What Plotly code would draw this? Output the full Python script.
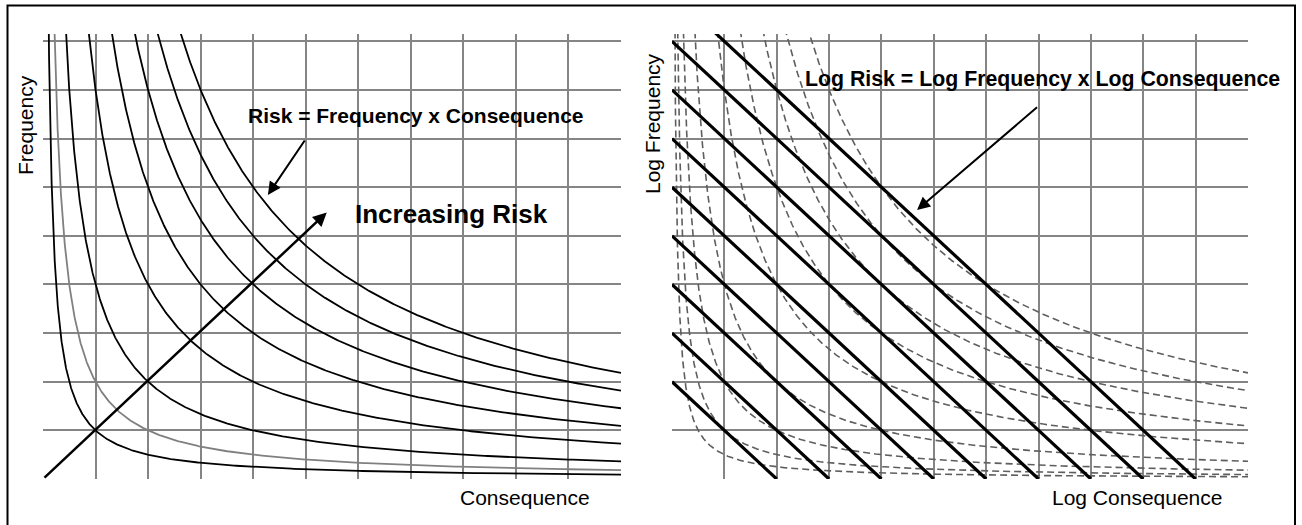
import numpy as np
import plotly.graph_objects as go

# ---------------- data ----------------
# iso-risk levels drawn as hyperbolas (Frequency = Risk / Consequence), left panel
risk_levels = [1, 2, 4, 8, 12, 16, 20, 24]
risk_is_grey = [False, True, False, False, False, False, False, False]
# same hyperbolas repeated as dashed curves in the right panel
dashed_risk_levels = [0.5, 1, 2, 4, 8, 12, 16, 20, 24]
# straight iso-risk lines on the log-log panel (Log F + Log C = const)
log_risk_levels = [2, 3, 4, 5, 6, 7, 8, 9, 10]

X_MAX = 11
Y_MAX = 9.15

W, H = 1302, 525
def px(x):
    return x / W
def py(y):
    return 1 - y / H

FONT = "Arial, Liberation Sans, sans-serif"

fig = go.Figure()

# ---------------- left panel ----------------
for r, grey in zip(risk_levels, risk_is_grey):
    xs = np.geomspace(r / (Y_MAX * 1.5), X_MAX, 500)
    fig.add_trace(go.Scatter(
        x=xs, y=r / xs, mode="lines", xaxis="x", yaxis="y",
        line=dict(color="#808080" if grey else "black", width=1.8),
        hoverinfo="skip", showlegend=False))

# ---------------- right panel ----------------
for r in dashed_risk_levels:
    xs = np.geomspace(r / (Y_MAX * 1.5), X_MAX, 500)
    fig.add_trace(go.Scatter(
        x=xs, y=r / xs, mode="lines", xaxis="x2", yaxis="y2",
        line=dict(color="#5e5e5e", width=1.6, dash="7px,4px"),
        hoverinfo="skip", showlegend=False))

for c in log_risk_levels:
    xs = np.array([0.0, float(c)])
    fig.add_trace(go.Scatter(
        x=xs, y=c - xs, mode="lines", xaxis="x2", yaxis="y2",
        line=dict(color="black", width=3.2),
        hoverinfo="skip", showlegend=False))

axis_common = dict(
    showticklabels=False, ticks="", showline=False, zeroline=False,
    showgrid=True, gridcolor="#858585", gridwidth=2, dtick=1, tick0=0,
    fixedrange=True,
)

y_dom = [py(479), py(34)]
fig.update_layout(
    width=W, height=H, autosize=False,
    margin=dict(l=0, r=0, t=0, b=0),
    paper_bgcolor="white", plot_bgcolor="white",
    showlegend=False,
    xaxis=dict(domain=[px(43), px(621)], range=[0, X_MAX], anchor="y", **axis_common),
    yaxis=dict(domain=y_dom, range=[0, Y_MAX], anchor="x", **axis_common),
    xaxis2=dict(domain=[px(672), px(1248)], range=[0, X_MAX], anchor="y2", **axis_common),
    yaxis2=dict(domain=y_dom, range=[0, Y_MAX], anchor="x2", **axis_common),
)

annotations = []
# arrows
annotations.append(dict(xref="x", yref="y", axref="x", ayref="y",
                        x=5.40, y=5.48, ax=0, ay=0, text="", showarrow=True,
                        arrowhead=2, arrowsize=1.1, arrowwidth=2.5, arrowcolor="black",
                        standoff=0, startstandoff=0))
annotations.append(dict(xref="x", yref="y", axref="x", ayref="y",
                        x=4.28, y=5.84, ax=5.0, ay=6.99, text="", showarrow=True,
                        arrowhead=2, arrowsize=1.3, arrowwidth=2, arrowcolor="black",
                        standoff=0, startstandoff=0))
annotations.append(dict(xref="x2", yref="y2", axref="x2", ayref="y2",
                        x=4.68, y=5.53, ax=7.0, ay=7.67, text="", showarrow=True,
                        arrowhead=2, arrowsize=1.3, arrowwidth=2, arrowcolor="black",
                        standoff=0, startstandoff=0))

def txt(text, x, y, size, bold=False, angle=0):
    return dict(xref="paper", yref="paper", x=px(x), y=py(y), xanchor="center", yanchor="middle",
                text=f"<b>{text}</b>" if bold else text, showarrow=False, textangle=angle,
                font=dict(family=FONT, size=size, color="black"))

annotations += [
    txt("Frequency", 25, 125, 21, angle=-90),
    txt("Consequence", 525, 497, 21),
    txt("Risk = Frequency x Consequence", 416, 115, 21, bold=True),
    txt("Increasing Risk", 451, 214, 26, bold=True),
    txt("Log Frequency", 653, 124, 21, angle=-90),
    txt("Log Consequence", 1137, 497, 21),
    txt("Log Risk = Log Frequency x Log Consequence", 1042, 79, 21.3, bold=True),
]
fig.update_layout(annotations=annotations)

# outer frame
fig.add_shape(type="rect", xref="paper", yref="paper",
              x0=px(7.5), x1=px(1295), y0=py(540), y1=py(5.5),
              line=dict(color="black", width=2), fillcolor="rgba(0,0,0,0)", layer="above")

fig.write_html(
    "out.html",
    config={"displayModeBar": False, "staticPlot": True},
    post_script="document.body.style.margin='0';document.body.style.overflow='hidden';",
)
